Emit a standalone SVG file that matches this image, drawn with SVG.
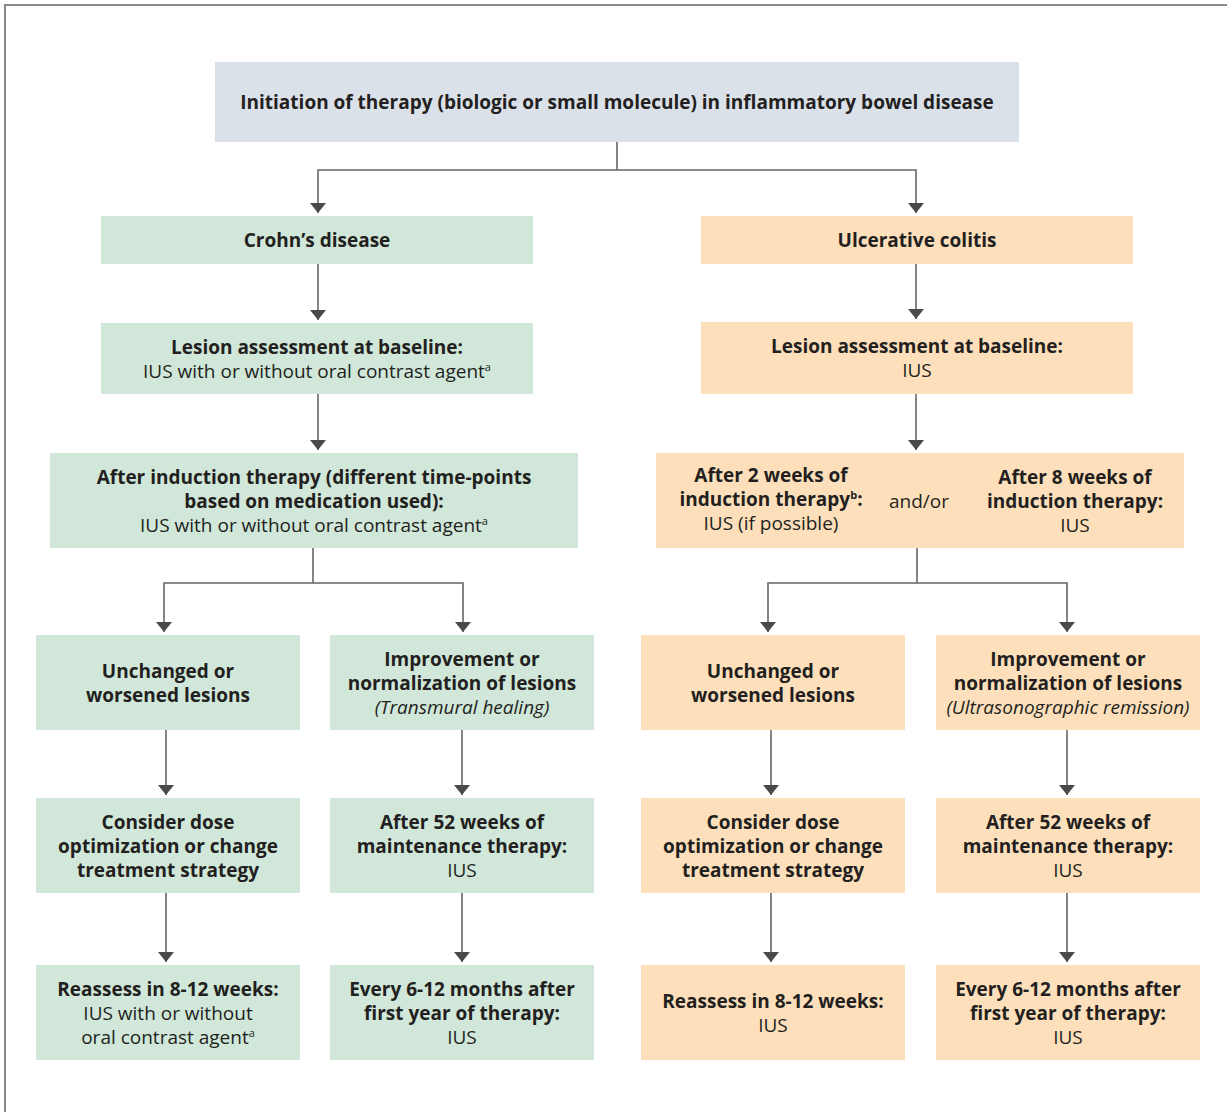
<svg xmlns="http://www.w3.org/2000/svg" width="1227" height="1112" viewBox="0 0 1227 1112">
<defs>
<style>
.frame{fill:none;stroke:#8a8a8a;stroke-width:2}
.top{fill:#dbe1e9}
.cd{fill:#d0e7d9}
.uc{fill:#fde0bb}
.conn path{fill:none;stroke:#666;stroke-width:1.6}
text{font-family:"Open Sans","Noto Sans","Liberation Sans",sans-serif;font-size:19px;fill:#231f20;text-anchor:middle}
.b{font-weight:700}
.r{font-weight:400}
.i{font-style:italic;font-weight:400}
.sup{font-size:11px}
</style>
<marker id="arr" viewBox="0 0 10 16" markerWidth="10" markerHeight="16" refX="10" refY="8" markerUnits="userSpaceOnUse" orient="auto">
<path d="M0,0 L10,8 L0,16 z" fill="#4a4a4a"/>
</marker>
</defs>
<rect width="1227" height="1112" fill="#fff"/>
<path class="frame" d="M5,1112 V5 H1227"/>

<g class="conn" id="connectors">
<path d="M617,142 V170"/>
<path d="M617,170 H318 V213" marker-end="url(#arr)"/>
<path d="M617,170 H916 V213" marker-end="url(#arr)"/>
<path d="M318,264 V320" marker-end="url(#arr)"/>
<path d="M916,264 V319" marker-end="url(#arr)"/>
<path d="M318,394 V450" marker-end="url(#arr)"/>
<path d="M916,394 V450" marker-end="url(#arr)"/>
<path d="M313,548 V583"/>
<path d="M313,583 H164 V632" marker-end="url(#arr)"/>
<path d="M313,583 H463 V632" marker-end="url(#arr)"/>
<path d="M917,548 V583"/>
<path d="M917,583 H768 V632" marker-end="url(#arr)"/>
<path d="M917,583 H1067 V632" marker-end="url(#arr)"/>
<path d="M166,730 V795" marker-end="url(#arr)"/>
<path d="M462,730 V795" marker-end="url(#arr)"/>
<path d="M771,730 V795" marker-end="url(#arr)"/>
<path d="M1067,730 V795" marker-end="url(#arr)"/>
<path d="M166,893 V962" marker-end="url(#arr)"/>
<path d="M462,893 V962" marker-end="url(#arr)"/>
<path d="M771,893 V962" marker-end="url(#arr)"/>
<path d="M1067,893 V962" marker-end="url(#arr)"/>
</g>

<g id="n-init">
<rect class="top" x="215" y="62" width="804" height="80"/>
<text class="b" x="617" y="109">Initiation of therapy (biologic or small molecule) in inflammatory bowel disease</text>
</g>

<g id="n-cd">
<rect class="cd" x="101" y="216" width="432" height="48"/>
<text class="b" x="317" y="247">Crohn’s disease</text>
</g>
<g id="n-uc">
<rect class="uc" x="701" y="216" width="432" height="48"/>
<text class="b" x="917" y="247">Ulcerative colitis</text>
</g>

<g id="n-cd-base">
<rect class="cd" x="101" y="323" width="432" height="71"/>
<text class="b" x="317" y="354">Lesion assessment at baseline:</text>
<text class="r" x="317" y="378">IUS with or without oral contrast agent<tspan class="sup" dy="-7">a</tspan></text>
</g>
<g id="n-uc-base">
<rect class="uc" x="701" y="322" width="432" height="72"/>
<text class="b" x="917" y="353">Lesion assessment at baseline:</text>
<text class="r" x="917" y="377">IUS</text>
</g>

<g id="n-cd-ind">
<rect class="cd" x="50" y="453" width="528" height="95"/>
<text class="b" x="314" y="484">After induction therapy (different time-points</text>
<text class="b" x="314" y="508">based on medication used):</text>
<text class="r" x="314" y="532">IUS with or without oral contrast agent<tspan class="sup" dy="-7">a</tspan></text>
</g>
<g id="n-uc-ind">
<rect class="uc" x="656" y="453" width="528" height="95"/>
<text class="b" x="771" y="482">After 2 weeks of</text>
<text class="b" x="771" y="506">induction therapy<tspan class="sup" dy="-7">b</tspan><tspan dy="7">:</tspan></text>
<text class="r" x="771" y="530">IUS (if possible)</text>
<text class="r" x="919" y="508">and/or</text>
<text class="b" x="1075" y="484">After 8 weeks of</text>
<text class="b" x="1075" y="508">induction therapy:</text>
<text class="r" x="1075" y="532">IUS</text>
</g>

<g id="n-cd-worse">
<rect class="cd" x="36" y="635" width="264" height="95"/>
<text class="b" x="168" y="678">Unchanged or</text>
<text class="b" x="168" y="702">worsened lesions</text>
</g>
<g id="n-cd-better">
<rect class="cd" x="330" y="635" width="264" height="95"/>
<text class="b" x="462" y="666">Improvement or</text>
<text class="b" x="462" y="690">normalization of lesions</text>
<text class="i" x="462" y="714">(Transmural healing)</text>
</g>
<g id="n-uc-worse">
<rect class="uc" x="641" y="635" width="264" height="95"/>
<text class="b" x="773" y="678">Unchanged or</text>
<text class="b" x="773" y="702">worsened lesions</text>
</g>
<g id="n-uc-better">
<rect class="uc" x="936" y="635" width="264" height="95"/>
<text class="b" x="1068" y="666">Improvement or</text>
<text class="b" x="1068" y="690">normalization of lesions</text>
<text class="i" x="1068" y="714">(Ultrasonographic remission)</text>
</g>

<g id="n-cd-dose">
<rect class="cd" x="36" y="798" width="264" height="95"/>
<text class="b" x="168" y="829">Consider dose</text>
<text class="b" x="168" y="853">optimization or change</text>
<text class="b" x="168" y="877">treatment strategy</text>
</g>
<g id="n-cd-52">
<rect class="cd" x="330" y="798" width="264" height="95"/>
<text class="b" x="462" y="829">After 52 weeks of</text>
<text class="b" x="462" y="853">maintenance therapy:</text>
<text class="r" x="462" y="877">IUS</text>
</g>
<g id="n-uc-dose">
<rect class="uc" x="641" y="798" width="264" height="95"/>
<text class="b" x="773" y="829">Consider dose</text>
<text class="b" x="773" y="853">optimization or change</text>
<text class="b" x="773" y="877">treatment strategy</text>
</g>
<g id="n-uc-52">
<rect class="uc" x="936" y="798" width="264" height="95"/>
<text class="b" x="1068" y="829">After 52 weeks of</text>
<text class="b" x="1068" y="853">maintenance therapy:</text>
<text class="r" x="1068" y="877">IUS</text>
</g>

<g id="n-cd-reassess">
<rect class="cd" x="36" y="965" width="264" height="95"/>
<text class="b" x="168" y="996">Reassess in 8-12 weeks:</text>
<text class="r" x="168" y="1020">IUS with or without</text>
<text class="r" x="168" y="1044">oral contrast agent<tspan class="sup" dy="-7">a</tspan></text>
</g>
<g id="n-cd-every">
<rect class="cd" x="330" y="965" width="264" height="95"/>
<text class="b" x="462" y="996">Every 6-12 months after</text>
<text class="b" x="462" y="1020">first year of therapy:</text>
<text class="r" x="462" y="1044">IUS</text>
</g>
<g id="n-uc-reassess">
<rect class="uc" x="641" y="965" width="264" height="95"/>
<text class="b" x="773" y="1008">Reassess in 8-12 weeks:</text>
<text class="r" x="773" y="1032">IUS</text>
</g>
<g id="n-uc-every">
<rect class="uc" x="936" y="965" width="264" height="95"/>
<text class="b" x="1068" y="996">Every 6-12 months after</text>
<text class="b" x="1068" y="1020">first year of therapy:</text>
<text class="r" x="1068" y="1044">IUS</text>
</g>
</svg>
